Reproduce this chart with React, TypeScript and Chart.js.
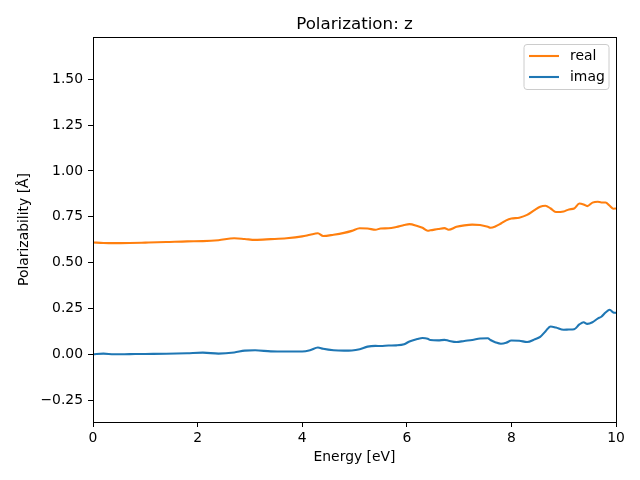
import React, { useEffect, useRef } from "react";
import { Chart, registerables } from "chart.js";

Chart.register(...registerables);

const chartTitle = "Polarization: z";
const xTitle = "Energy [eV]";
const yTitle = "Polarizability [Å]";
const seriesLabels = ["real", "imag"];
const seriesColors = ["#ff7f0e", "#1f77b4"];

const energy = [
  0, 0.2, 0.4, 0.7, 1.0, 1.4, 1.8, 2.1, 2.4, 2.7, 2.9, 3.1, 3.4, 3.7, 4.0, 4.15, 4.3, 4.4, 4.6, 4.8,
  4.95, 5.1, 5.25, 5.4, 5.5, 5.65, 5.8, 5.95, 6.05, 6.2, 6.3, 6.4, 6.45, 6.6, 6.72, 6.8, 6.95, 7.1,
  7.25, 7.4, 7.55, 7.6, 7.7, 7.8, 7.9, 8.0, 8.15, 8.3, 8.45, 8.55, 8.65, 8.75, 8.85, 9.0, 9.1, 9.2,
  9.3, 9.38, 9.45, 9.55, 9.65, 9.72, 9.8, 9.88, 9.95, 10,
];

const realPart = [
  0.61, 0.607, 0.606, 0.607, 0.609, 0.612, 0.616, 0.617, 0.622, 0.633, 0.629, 0.624, 0.628, 0.633,
  0.643, 0.652, 0.66, 0.645, 0.652, 0.662, 0.673, 0.687, 0.686, 0.679, 0.686, 0.687, 0.694, 0.705,
  0.71, 0.7, 0.69, 0.674, 0.676, 0.683, 0.688, 0.679, 0.695, 0.703, 0.707, 0.705, 0.695, 0.69, 0.698,
  0.713, 0.73, 0.74, 0.745, 0.76, 0.788, 0.805, 0.81, 0.795, 0.776, 0.779, 0.79, 0.795, 0.822, 0.817,
  0.808, 0.827, 0.832, 0.828, 0.828, 0.81, 0.794, 0.795,
];

const imagPart = [
  0.0, 0.004, 0.0, 0.001, 0.002, 0.003, 0.006, 0.009, 0.004, 0.01, 0.02, 0.022, 0.016, 0.015, 0.015,
  0.022, 0.037, 0.03, 0.022, 0.02, 0.021, 0.028, 0.042, 0.046, 0.045, 0.048, 0.049, 0.055, 0.07,
  0.083, 0.089, 0.085, 0.078, 0.076, 0.079, 0.074, 0.067, 0.073, 0.078, 0.086, 0.088, 0.078, 0.065,
  0.058, 0.063, 0.075, 0.074, 0.067, 0.082, 0.095, 0.125, 0.152, 0.146, 0.134, 0.135, 0.137, 0.163,
  0.175, 0.166, 0.175, 0.195, 0.205, 0.228, 0.243, 0.228, 0.226,
];

const xTicks = [0, 2, 4, 6, 8, 10];
const yTicks = [-0.25, 0, 0.25, 0.5, 0.75, 1.0, 1.25, 1.5];
const xRange = [0, 10];
const yRange = [-0.369, 1.73];

const FONT = "'DejaVu Sans', sans-serif";

const framePlugin = {
  id: "frame",
  afterDraw(chart: any) {
    const { ctx, chartArea: a } = chart;
    ctx.save();
    ctx.strokeStyle = "#000";
    ctx.lineWidth = 1;
    ctx.strokeRect(Math.round(a.left) + 0.5, Math.round(a.top) + 0.5, Math.round(a.right - a.left), Math.round(a.bottom - a.top));
    // title
    ctx.fillStyle = "#000";
    ctx.font = `16.7px ${FONT}`;
    ctx.textAlign = "center";
    ctx.textBaseline = "alphabetic";
    ctx.fillText(chartTitle, (a.left + a.right) / 2, 29);
    // legend
    const w = 85;
    const h = 45;
    const bx = a.right - 7 - w;
    const by = a.top + 7.5;
    const r = 3;
    ctx.beginPath();
    ctx.moveTo(bx + r, by);
    ctx.lineTo(bx + w - r, by);
    ctx.arcTo(bx + w, by, bx + w, by + r, r);
    ctx.lineTo(bx + w, by + h - r);
    ctx.arcTo(bx + w, by + h, bx + w - r, by + h, r);
    ctx.lineTo(bx + r, by + h);
    ctx.arcTo(bx, by + h, bx, by + h - r, r);
    ctx.lineTo(bx, by + r);
    ctx.arcTo(bx, by, bx + r, by, r);
    ctx.closePath();
    ctx.fillStyle = "rgba(255,255,255,0.8)";
    ctx.fill();
    ctx.strokeStyle = "#cccccc";
    ctx.lineWidth = 1;
    ctx.stroke();
    ctx.font = `13.9px ${FONT}`;
    ctx.textAlign = "left";
    ctx.textBaseline = "middle";
    seriesLabels.forEach((lab, i) => {
      const y = by + 11.5 + i * 21;
      ctx.strokeStyle = seriesColors[i];
      ctx.lineWidth = 2.1;
      ctx.beginPath();
      ctx.moveTo(bx + 5, y);
      ctx.lineTo(bx + 35, y);
      ctx.stroke();
      ctx.fillStyle = "#000";
      ctx.fillText(lab, bx + 46, y);
    });
    ctx.restore();
  },
};

export default function App() {
  const ref = useRef<HTMLCanvasElement>(null);
  useEffect(() => {
    if (!ref.current) return;
    const tickFont = { family: FONT, size: 13.9 };
    const chart = new Chart(ref.current, {
      type: "line",
      data: {
        datasets: [realPart, imagPart].map((vals, i) => ({
          label: seriesLabels[i],
          data: energy.map((e, j) => ({ x: e, y: vals[j] })),
          borderColor: seriesColors[i],
          backgroundColor: seriesColors[i],
          borderWidth: 2.1,
          pointRadius: 0,
          fill: false,
          cubicInterpolationMode: "monotone" as const,
        })),
      },
      options: {
        responsive: false,
        animation: false,
        events: [],
        layout: { padding: { left: 0, right: 24, top: 37, bottom: 0 } },
        plugins: { legend: { display: false }, tooltip: { enabled: false }, title: { display: false } },
        scales: {
          x: {
            type: "linear",
            min: xRange[0],
            max: xRange[1],
            afterBuildTicks: (s: any) => {
              s.ticks = xTicks.map((v) => ({ value: v }));
            },
            afterFit: (s: any) => {
              s.height = 58;
            },
            ticks: {
              font: tickFont,
              color: "#000",
              padding: 3,
              maxRotation: 0,
              autoSkip: false,
              callback: (v: any) => String(v),
            },
            grid: { drawOnChartArea: false, drawTicks: true, tickLength: 5, color: "#000" },
            border: { color: "#000", width: 1 },
            title: { display: true, text: xTitle, font: tickFont, color: "#000", padding: { top: 0, bottom: 14 } },
          },
          y: {
            type: "linear",
            min: yRange[0],
            max: yRange[1],
            afterBuildTicks: (s: any) => {
              s.ticks = yTicks.map((v) => ({ value: v }));
            },
            afterFit: (s: any) => {
              s.width = 93;
            },
            ticks: {
              font: tickFont,
              color: "#000",
              padding: 5,
              autoSkip: false,
              callback: (v: any) => (Number(v) < 0 ? "\u2212" : "") + Math.abs(Number(v)).toFixed(2),
            },
            grid: { drawOnChartArea: false, drawTicks: true, tickLength: 5, color: "#000" },
            border: { color: "#000", width: 1 },
            title: { display: true, text: yTitle, font: tickFont, color: "#000", padding: { top: 16, bottom: 0 } },
          },
        },
      },
      plugins: [framePlugin],
    });
    return () => chart.destroy();
  }, []);
  return (
    <canvas
      ref={ref}
      width={640}
      height={480}
      style={{ position: "fixed", left: 0, top: 0, width: 640, height: 480, background: "#fff" }}
    />
  );
}
